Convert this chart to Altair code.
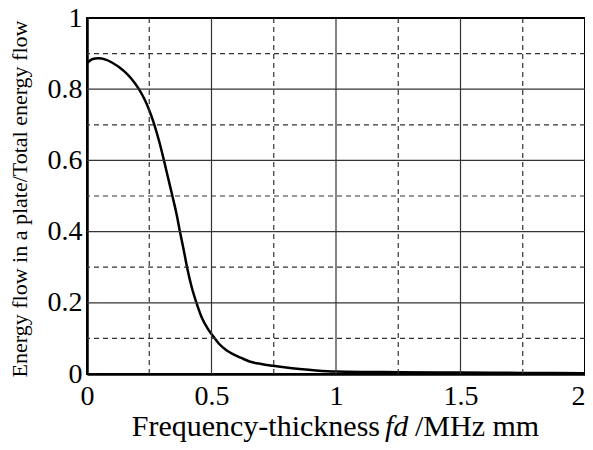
import altair as alt
import pandas as pd

# Curve values
fd = [0.0, 0.02, 0.045, 0.075, 0.1, 0.15, 0.18, 0.206, 0.23, 0.25, 0.27, 0.29, 0.309,
      0.326, 0.343, 0.36, 0.373, 0.388, 0.402, 0.42, 0.44, 0.46, 0.486, 0.506, 0.53,
      0.56, 0.586, 0.62, 0.653, 0.7, 0.747, 0.8, 0.854, 0.92, 1.0, 1.25, 1.5, 1.75, 2.0]
ratio = [0.873, 0.884, 0.887, 0.883, 0.875, 0.850, 0.828, 0.803, 0.773, 0.741, 0.701,
         0.653, 0.600, 0.550, 0.500, 0.448, 0.401, 0.350, 0.299, 0.245, 0.199, 0.160,
         0.126, 0.107, 0.085, 0.067, 0.056, 0.045, 0.035, 0.028, 0.023, 0.018, 0.014,
         0.010, 0.007, 0.005, 0.004, 0.003, 0.002]

major_x = [0.5, 1.0, 1.5]
major_y = [0.2, 0.4, 0.6, 0.8]
minor_x = [0.25, 0.75, 1.25, 1.75]
minor_y = [0.1, 0.3, 0.5, 0.7, 0.9]
x_ticks = [0, 0.5, 1, 1.5, 2]
y_ticks = [0, 0.2, 0.4, 0.6, 0.8, 1]

FONT = "Liberation Serif"

curve_df = pd.DataFrame({"fd": fd, "ratio": ratio})

xs = alt.Scale(domain=[0, 2], nice=False, zero=False)
ys = alt.Scale(domain=[0, 1], nice=False)

x_axis = alt.Axis(values=x_ticks, format="~g", grid=False, ticks=False, labelFont=FONT,
                  labelFontSize=28, labelColor="black", labelPadding=8, labelFlush=False,
                  labelAlign={"condition": {"test": "datum.value == 2", "value": "right"},
                              "value": "center"},
                  domain=True, domainColor="black", domainWidth=2.5, title=None)
y_axis = alt.Axis(values=y_ticks, format="~g", grid=False, ticks=False, labelFont=FONT,
                  labelFontSize=28, labelColor="black", labelPadding=5, labelFlush=False,
                  domain=True, domainColor="black", domainWidth=2.5, title=None)

line = alt.Chart(curve_df).mark_line(color="black", strokeWidth=2.5, interpolate="monotone").encode(
    x=alt.X("fd:Q", scale=xs, axis=x_axis),
    y=alt.Y("ratio:Q", scale=ys, axis=y_axis),
)

major_v = alt.Chart(pd.DataFrame({"v": major_x})).mark_rule(color="#333333", strokeWidth=1.2).encode(
    x=alt.X("v:Q", scale=xs, axis=x_axis))
major_h = alt.Chart(pd.DataFrame({"v": major_y})).mark_rule(color="#333333", strokeWidth=1.2).encode(
    y=alt.Y("v:Q", scale=ys, axis=y_axis))
minor_v = alt.Chart(pd.DataFrame({"v": minor_x})).mark_rule(color="#333333", strokeWidth=1.2,
                                                             strokeDash=[5, 4]).encode(
    x=alt.X("v:Q", scale=xs, axis=x_axis))
minor_h = alt.Chart(pd.DataFrame({"v": minor_y})).mark_rule(color="#333333", strokeWidth=1.2,
                                                             strokeDash=[5, 4]).encode(
    y=alt.Y("v:Q", scale=ys, axis=y_axis))

one = alt.Data(values=[{"a": 1}])
ytitle = alt.Chart(one).mark_text(text="Energy flow in a plate/Total energy flow", font=FONT,
                                  fontSize=22, angle=270, align="center", baseline="middle",
                                  color="black").encode(x=alt.value(-67), y=alt.value(181))
t1 = alt.Chart(one).mark_text(text="Frequency-thickness", font=FONT, fontSize=30, align="right",
                              baseline="alphabetic", color="black").encode(
    x=alt.value(293), y=alt.value(418))
t2 = alt.Chart(one).mark_text(text="fd", font=FONT, fontSize=30, fontStyle="italic", align="left",
                              baseline="alphabetic", color="black").encode(
    x=alt.value(298), y=alt.value(418))
t3 = alt.Chart(one).mark_text(text="/MHz mm", font=FONT, fontSize=30, align="left",
                              baseline="alphabetic", color="black").encode(
    x=alt.value(328), y=alt.value(418))

chart = alt.layer(line, minor_v, minor_h, major_v, major_h, ytitle, t1, t2, t3).properties(
    width=498, height=356,
    autosize=alt.AutoSizeParams(type="none"),
    padding={"left": 79, "top": 10, "right": 0, "bottom": 68},
    background="white",
).configure_view(stroke="black", strokeWidth=2).configure_axis(
    labelFont=FONT, labelColor="black"
).configure_text(font=FONT)

chart.save("out.html", embed_options={"renderer": "svg", "actions": False})
